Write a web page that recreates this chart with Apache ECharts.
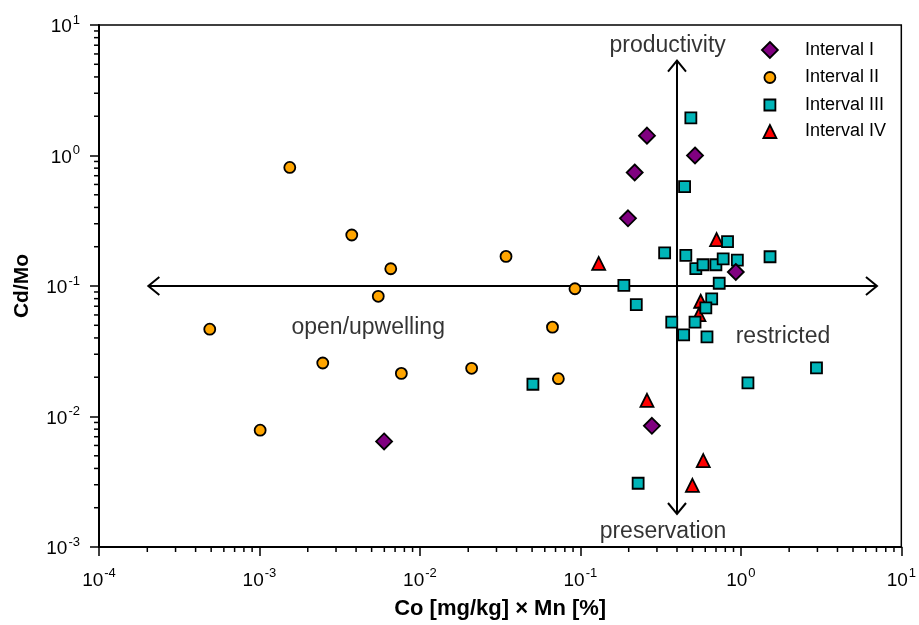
<!DOCTYPE html>
<html>
<head>
    <meta charset="utf-8">
    <script src="https://cdn.jsdelivr.net/npm/echarts@6/dist/echarts.min.js"></script>
</head>
<body style="margin: 0">
    <div id="container" style="width: 919px; height: 625px"></div>
    <script type="text/javascript">
        // values: [Co x Mn, Cd/Mo]
        var interval1 = [[0.26, 1.42], [0.518, 1.0], [0.218, 0.741], [0.198, 0.33], [0.93, 0.128],
            [0.00598, 0.00644], [0.279, 0.00849]];
        var interval2 = [[0.001545, 0.81], [0.00376, 0.246], [0.00658, 0.1356], [0.0344, 0.1686],
            [0.0925, 0.0953], [0.0055, 0.0834], [0.00049, 0.0467], [0.067, 0.0484], [0.00248, 0.0257],
            [0.00766, 0.0214], [0.021, 0.0234], [0.0729, 0.0195], [0.00101, 0.00785]];
        var interval3 = [[0.488, 1.94], [0.446, 0.577], [0.826, 0.219], [0.335, 0.1795], [0.454, 0.1714],
            [0.524, 0.136], [0.581, 0.1455], [0.699, 0.1455], [0.776, 0.1614], [0.951, 0.158],
            [1.52, 0.1675], [0.1866, 0.101], [0.733, 0.105], [0.223, 0.0719], [0.658, 0.0796],
            [0.605, 0.068], [0.518, 0.0528], [0.371, 0.0528], [0.44, 0.0422], [0.615, 0.0408],
            [2.96, 0.0236], [1.107, 0.0181], [0.0506, 0.01766], [0.229, 0.00308]];
        var interval4 = [[0.706, 0.227], [0.130, 0.149], [0.562, 0.0764], [0.548, 0.0604], [0.26, 0.0133],
            [0.583, 0.00459], [0.499, 0.00297]];

        var seriesNames = ['Interval I', 'Interval II', 'Interval III', 'Interval IV'];
        var xRange = [1e-4, 10];
        var yRange = [1e-3, 10];
        var xDecades = [-4, -3, -2, -1, 0];
        var yDecades = [-3, -2, -1, 0];
        var minorSteps = [2, 3, 4, 5, 6, 7, 8, 9];
        var xMinorTicks = [];
        var yMinorTicks = [];
        xDecades.forEach(function (k) {
            minorSteps.forEach(function (m) { xMinorTicks.push([m * Math.pow(10, k), yRange[0]]); });
        });
        yDecades.forEach(function (k) {
            minorSteps.forEach(function (m) { yMinorTicks.push([xRange[0], m * Math.pow(10, k)]); });
        });

        // the two crossing double-headed arrows: [x1, y1, x2, y2]
        var axisArrows = [[2.03e-4, 0.1, 7.05, 0.1], [0.40, 0.00179, 0.40, 5.34]];
        var noteNames = ['productivity', 'preservation', 'open/upwelling', 'restricted'];
        var noteX = [0.35, 0.327, 0.00476, 1.83];
        var noteY = [7.0, 0.0013, 0.0477, 0.0408];

        var font = 'Liberation Sans, Arial, sans-serif';

        function powLabel(v) {
            var e = Math.round(Math.log10(v));
            return '{b|10}{e|' + (e < 0 ? '-' + (-e) : e) + '}';
        }
        var labelRich = {
            b: { fontSize: 19, fontFamily: font, color: '#000', verticalAlign: 'bottom' },
            e: { fontSize: 13, fontFamily: font, color: '#000', verticalAlign: 'bottom', padding: [0, 0, 10, 1] }
        };

        function minorTick(horizontal) {
            return function (params, api) {
                var p = api.coord([api.value(0), api.value(1)]);
                var shape = horizontal ? { x1: p[0], y1: p[1], x2: p[0], y2: p[1] + 5 }
                    : { x1: p[0], y1: p[1], x2: p[0] - 5, y2: p[1] };
                return { type: 'line', shape: shape, style: { stroke: '#000', lineWidth: 1.5 } };
            };
        }

        function drawArrow(params, api) {
            var a = api.coord([api.value(0), api.value(1)]);
            var b = api.coord([api.value(2), api.value(3)]);
            var dx = b[0] - a[0], dy = b[1] - a[1];
            var len = Math.sqrt(dx * dx + dy * dy);
            var ux = dx / len, uy = dy / len, px = -uy, py = ux;
            var h = 11, w = 9;
            var st = { stroke: '#000', lineWidth: 2, fill: null };
            return {
                type: 'group',
                children: [
                    { type: 'line', shape: { x1: a[0], y1: a[1], x2: b[0], y2: b[1] }, style: st },
                    { type: 'polyline', shape: { points: [[b[0] - ux * h + px * w, b[1] - uy * h + py * w], b,
                        [b[0] - ux * h - px * w, b[1] - uy * h - py * w]] }, style: st },
                    { type: 'polyline', shape: { points: [[a[0] + ux * h + px * w, a[1] + uy * h + py * w], a,
                        [a[0] + ux * h - px * w, a[1] + uy * h - py * w]] }, style: st }
                ]
            };
        }

        var markerStyle = { borderColor: '#000', borderWidth: 1.8 };
        function scatter(name, data, symbol, size, color, z) {
            return {
                name: name, type: 'scatter', data: data, symbol: symbol, symbolSize: size, z: z,
                symbolKeepAspect: true,
                itemStyle: Object.assign({ color: color, opacity: 1 }, markerStyle),
                emphasis: { disabled: true }
            };
        }

        // legend rows: icon centre x 769, text starts near x 804
        var legendRows = [
            { name: seriesNames[0], size: 16, center: 50 },
            { name: seriesNames[1], size: 11, center: 77.5 },
            { name: seriesNames[2], size: 11, center: 105 },
            { name: seriesNames[3], size: 13, center: 131.5 }
        ];
        var legends = legendRows.map(function (r) {
            var left = 769 - r.size / 2;
            return {
                data: [r.name], orient: 'vertical', left: left, top: r.center - 10, padding: 0,
                itemWidth: r.size, itemHeight: r.size, selectedMode: false,
                itemStyle: markerStyle,
                textStyle: { fontSize: 18, fontFamily: font, color: '#000', lineHeight: 20,
                    padding: [0, 0, 0, 804 - (left + r.size + 5)] }
            };
        });

        var dom = document.getElementById('container');
        var myChart = echarts.init(dom);
        var option = {
            animation: false,
            legend: legends,
            grid: { left: 99, right: 12, top: 25, bottom: 75, show: true, borderColor: '#000', borderWidth: 1.5 },
            xAxis: {
                type: 'log', logBase: 10, min: xRange[0], max: xRange[1], splitNumber: 5,
                name: 'Co [mg/kg] \u00d7 Mn [%]', nameLocation: 'middle', nameGap: 51,
                nameTextStyle: { fontSize: 22, fontWeight: 'bold', fontFamily: font, color: '#000' },
                axisLine: { lineStyle: { color: '#000', width: 2 } },
                axisTick: { inside: false, length: 9, lineStyle: { color: '#000', width: 1.5 } },
                axisLabel: { formatter: powLabel, rich: labelRich, margin: 20 },
                splitLine: { show: false }
            },
            yAxis: {
                type: 'log', logBase: 10, min: yRange[0], max: yRange[1], splitNumber: 4,
                name: 'Cd/Mo', nameLocation: 'middle', nameGap: 66,
                nameTextStyle: { fontSize: 21, fontWeight: 'bold', fontFamily: font, color: '#000' },
                axisLine: { lineStyle: { color: '#000', width: 2 } },
                axisTick: { inside: false, length: 9, lineStyle: { color: '#000', width: 1.5 } },
                axisLabel: { formatter: powLabel, rich: labelRich, margin: 19 },
                splitLine: { show: false }
            },
            series: [
                { type: 'custom', renderItem: minorTick(true), data: xMinorTicks, silent: true, z: 1, clip: false },
                { type: 'custom', renderItem: minorTick(false), data: yMinorTicks, silent: true, z: 1, clip: false },
                { type: 'custom', renderItem: drawArrow, data: axisArrows, silent: true, z: 1,
                  encode: { x: [0, 2], y: [1, 3] } },
                {
                    type: 'scatter', symbolSize: 0, silent: true, z: 1,
                    data: noteNames.map(function (n, i) { return { name: n, value: [noteX[i], noteY[i]] }; }),
                    label: { show: true, position: 'inside', formatter: '{b}', fontSize: 23, fontFamily: font,
                        color: '#000', textBorderWidth: 0 }
                },
                scatter(seriesNames[1], interval2, 'circle', 11, '#FFA500', 3),
                scatter(seriesNames[3], interval4, 'triangle', 13, '#FF0000', 3),
                scatter(seriesNames[2], interval3, 'rect', 11, '#00B5B8', 4),
                scatter(seriesNames[0], interval1, 'diamond', 16, '#800080', 5)
            ]
        };
        myChart.setOption(option);
    </script>
</body>
</html>
